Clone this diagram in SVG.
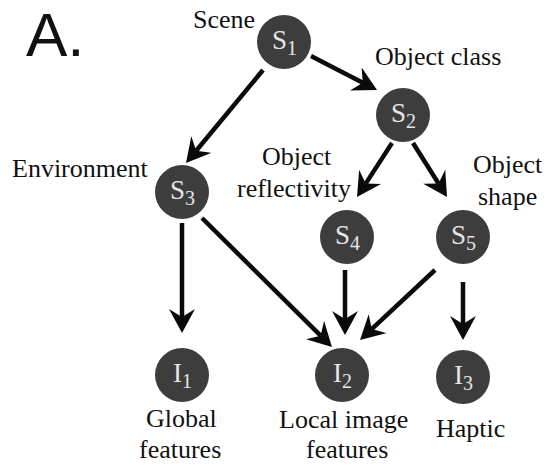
<svg xmlns="http://www.w3.org/2000/svg" width="551" height="465" viewBox="0 0 551 465">
<defs>
<marker id="ah" markerWidth="24" markerHeight="26" refX="8" refY="13" orient="auto" markerUnits="userSpaceOnUse" viewBox="0 0 24 26">
<path d="M0,0 L24,13 L0,26 L8,13 Z" fill="#0a0a0a"/>
</marker>
</defs>
<rect width="551" height="465" fill="#fff"/>
<text x="26" y="56" font-family="Liberation Sans" font-size="62" fill="#111">A.</text>
<g id="edges" stroke="#0a0a0a" stroke-width="4.5" fill="none">
<line x1="263" y1="70" x2="196.2" y2="150.7" marker-end="url(#ah)"/>
<line x1="311" y1="56" x2="362.8" y2="82.7" marker-end="url(#ah)"/>
<line x1="392" y1="143" x2="365.7" y2="183.6" marker-end="url(#ah)"/>
<line x1="413" y1="143" x2="438.5" y2="183.5" marker-end="url(#ah)"/>
<line x1="182" y1="223" x2="182" y2="317" marker-end="url(#ah)"/>
<line x1="202" y1="218" x2="320.6" y2="335.7" marker-end="url(#ah)"/>
<line x1="345" y1="270" x2="345" y2="319" marker-end="url(#ah)"/>
<line x1="435" y1="270" x2="371.7" y2="329.1" marker-end="url(#ah)"/>
<line x1="463" y1="282" x2="463" y2="324" marker-end="url(#ah)"/>
</g>
<g id="S1"><circle cx="284" cy="42" r="27" fill="#3d3d3d"/><text font-family="Liberation Serif" font-size="27" fill="#e6e6e6" x="272" y="49">S<tspan font-size="20" dy="6">1</tspan></text></g>
<g id="S2"><circle cx="403" cy="115" r="27" fill="#3d3d3d"/><text font-family="Liberation Serif" font-size="27" fill="#e6e6e6" x="391" y="122">S<tspan font-size="20" dy="6">2</tspan></text></g>
<g id="S3"><circle cx="182" cy="192" r="27" fill="#3d3d3d"/><text font-family="Liberation Serif" font-size="27" fill="#e6e6e6" x="170" y="199">S<tspan font-size="20" dy="6">3</tspan></text></g>
<g id="S4"><circle cx="347" cy="237" r="27" fill="#3d3d3d"/><text font-family="Liberation Serif" font-size="27" fill="#e6e6e6" x="335" y="244">S<tspan font-size="20" dy="6">4</tspan></text></g>
<g id="S5"><circle cx="463" cy="237" r="27" fill="#3d3d3d"/><text font-family="Liberation Serif" font-size="27" fill="#e6e6e6" x="451" y="244">S<tspan font-size="20" dy="6">5</tspan></text></g>
<g id="I1"><circle cx="182" cy="375" r="27" fill="#3d3d3d"/><text font-family="Liberation Serif" font-size="27" fill="#e6e6e6" x="173" y="382">I<tspan font-size="20" dy="6">1</tspan></text></g>
<g id="I2"><circle cx="342" cy="375" r="27" fill="#3d3d3d"/><text font-family="Liberation Serif" font-size="27" fill="#e6e6e6" x="333" y="382">I<tspan font-size="20" dy="6">2</tspan></text></g>
<g id="I3"><circle cx="463" cy="377" r="27" fill="#3d3d3d"/><text font-family="Liberation Serif" font-size="27" fill="#e6e6e6" x="454" y="384">I<tspan font-size="20" dy="6">3</tspan></text></g>
<text font-family="Liberation Serif" font-size="26" fill="#111" x="193" y="28">Scene</text>
<text font-family="Liberation Serif" font-size="26" fill="#111" x="375" y="65">Object class</text>
<text font-family="Liberation Serif" font-size="26" fill="#111" x="12" y="177">Environment</text>
<text font-family="Liberation Serif" font-size="26" fill="#111" x="262" y="165">Object</text>
<text font-family="Liberation Serif" font-size="26" fill="#111" x="237" y="197">reflectivity</text>
<text font-family="Liberation Serif" font-size="26" fill="#111" x="473" y="173">Object</text>
<text font-family="Liberation Serif" font-size="26" fill="#111" x="478" y="205">shape</text>
<text font-family="Liberation Serif" font-size="26" fill="#111" x="146" y="427">Global</text>
<text font-family="Liberation Serif" font-size="26" fill="#111" x="139" y="458">features</text>
<text font-family="Liberation Serif" font-size="26" fill="#111" x="279" y="428">Local image</text>
<text font-family="Liberation Serif" font-size="26" fill="#111" x="306" y="458">features</text>
<text font-family="Liberation Serif" font-size="26" fill="#111" x="436" y="437">Haptic</text>
</svg>
